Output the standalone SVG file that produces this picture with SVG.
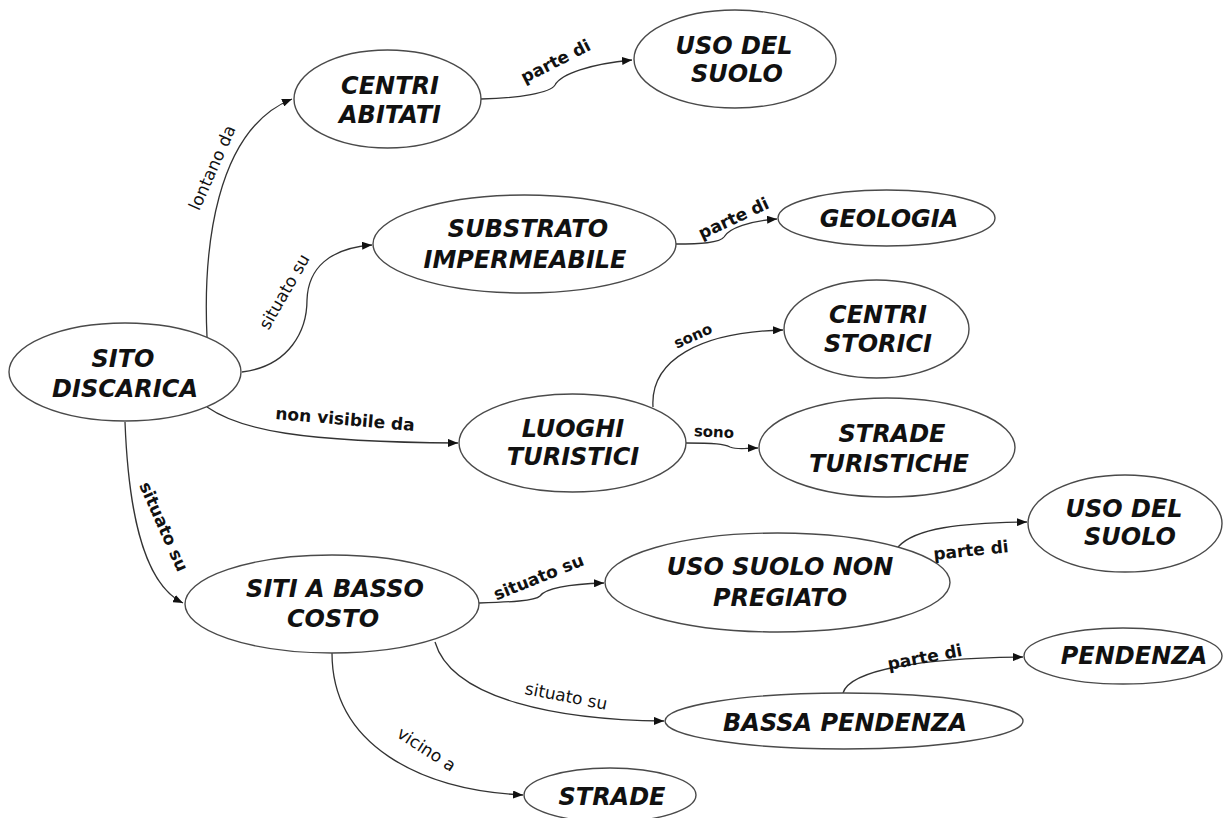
<svg xmlns="http://www.w3.org/2000/svg" width="1224" height="818" viewBox="0 0 1224 818">
<defs>
<marker id="arr" viewBox="0 0 10 8" refX="10" refY="4" markerWidth="10" markerHeight="8" markerUnits="userSpaceOnUse" orient="auto">
<path d="M0,0 L10,4 L0,8 Z" fill="#111"/>
</marker>
<style>
.n ellipse{fill:#fff;stroke:#4a4a4a;stroke-width:1.4}
.n text{font-family:"DejaVu Sans",sans-serif;font-weight:bold;font-style:italic;font-size:24px;fill:#111;text-anchor:middle}
.e path{fill:none;stroke:#333;stroke-width:1.3;marker-end:url(#arr)}
.l{font-family:"DejaVu Sans",sans-serif;font-weight:bold;font-size:17px;fill:#111;text-anchor:middle}
.lr{font-weight:normal}
.s{font-size:15px}
</style>
</defs>
<rect width="1224" height="818" fill="#fff"/>
<g id="connectors" class="e">
<path d="M207,337 C203,250 215,130 292,99"/>
<path d="M242,372 C290,366 307,330 307,300 C308,268 330,248 372,245"/>
<path d="M207,407 C240,430 300,442 458,443"/>
<path d="M125,422 C128,500 140,582 183,603"/>
<path d="M481,99 C520,98 550,93 555,85 C561,74 590,64 632,60"/>
<path d="M675,244 C700,244 720,243 724,237 C729,228 750,221 777,219"/>
<path d="M653,407 C650,360 700,332 783,330"/>
<path d="M686,443 C715,443 724,444 730,447 C738,450 745,448 758,448"/>
<path d="M479,603 C510,602 535,601 540,596 C546,588 570,584 604,583"/>
<path d="M898,547 C915,528 960,523 1027,522"/>
<path d="M435,642 C452,700 560,720 664,721"/>
<path d="M843,693 C850,670 920,658 1023,657"/>
<path d="M332,653 C332,745 420,790 523,795"/>
</g>
<g id="labels">
<text class="l lr" transform="translate(213,168) rotate(-66)" y="5">lontano da</text>
<text class="l lr" transform="translate(285,292) rotate(-60)" y="5">situato su</text>
<text class="l" transform="translate(345,420) rotate(5)" y="5">non visibile da</text>
<text class="l" transform="translate(163,527) rotate(66)" y="5">situato su</text>
<text class="l" transform="translate(556,62) rotate(-27)" y="5">parte di</text>
<text class="l" transform="translate(734,219) rotate(-25)" y="5">parte di</text>
<text class="l s" transform="translate(693,336) rotate(-24)" y="5">sono</text>
<text class="l s" transform="translate(714,432) rotate(3)" y="5">sono</text>
<text class="l" transform="translate(539,578) rotate(-22)" y="5">situato su</text>
<text class="l" transform="translate(971,551) rotate(-6)" y="5">parte di</text>
<text class="l lr" transform="translate(566,697) rotate(11)" y="5">situato su</text>
<text class="l lr" transform="translate(426,750) rotate(33)" y="5">vicino a</text>
<text class="l" transform="translate(925,658) rotate(-11)" y="5">parte di</text>
</g>
<g id="sito-discarica" class="n"><ellipse cx="125" cy="372" rx="116" ry="49"/><text x="123" y="367">SITO</text><text x="125" y="397">DISCARICA</text></g>
<g id="centri-abitati" class="n"><ellipse cx="387.5" cy="99" rx="93.5" ry="49"/><text x="390" y="94">CENTRI</text><text x="390" y="123">ABITATI</text></g>
<g id="uso-del-suolo-1" class="n"><ellipse cx="735" cy="59" rx="101" ry="49"/><text x="734" y="54">USO DEL</text><text x="737" y="82">SUOLO</text></g>
<g id="substrato-impermeabile" class="n"><ellipse cx="524.5" cy="244" rx="151.5" ry="49"/><text x="528" y="237">SUBSTRATO</text><text x="525" y="268">IMPERMEABILE</text></g>
<g id="geologia" class="n"><ellipse cx="886.5" cy="218" rx="108.5" ry="28"/><text x="889" y="227">GEOLOGIA</text></g>
<g id="centri-storici" class="n"><ellipse cx="876.5" cy="329" rx="92.5" ry="49"/><text x="878" y="323">CENTRI</text><text x="878" y="352">STORICI</text></g>
<g id="luoghi-turistici" class="n"><ellipse cx="572.5" cy="443" rx="113.5" ry="49"/><text x="573" y="437">LUOGHI</text><text x="573" y="465">TURISTICI</text></g>
<g id="strade-turistiche" class="n"><ellipse cx="887" cy="447.5" rx="128" ry="49.5"/><text x="892" y="442">STRADE</text><text x="889" y="472">TURISTICHE</text></g>
<g id="uso-del-suolo-2" class="n"><ellipse cx="1125" cy="523.5" rx="97" ry="48.5"/><text x="1124" y="517">USO DEL</text><text x="1130" y="545">SUOLO</text></g>
<g id="siti-basso-costo" class="n"><ellipse cx="332" cy="604" rx="147" ry="49"/><text x="335" y="597">SITI A BASSO</text><text x="333" y="627">COSTO</text></g>
<g id="uso-suolo-non-pregiato" class="n"><ellipse cx="777.5" cy="582.5" rx="172.5" ry="49.5"/><text x="780" y="575">USO SUOLO NON</text><text x="780" y="606">PREGIATO</text></g>
<g id="pendenza" class="n"><ellipse cx="1123" cy="656" rx="99" ry="28"/><text x="1134" y="664">PENDENZA</text></g>
<g id="bassa-pendenza" class="n"><ellipse cx="844" cy="721" rx="179" ry="28"/><text x="845" y="731">BASSA PENDENZA</text></g>
<g id="strade" class="n"><ellipse cx="610" cy="795" rx="86" ry="27"/><text x="612" y="805">STRADE</text></g>
</svg>
